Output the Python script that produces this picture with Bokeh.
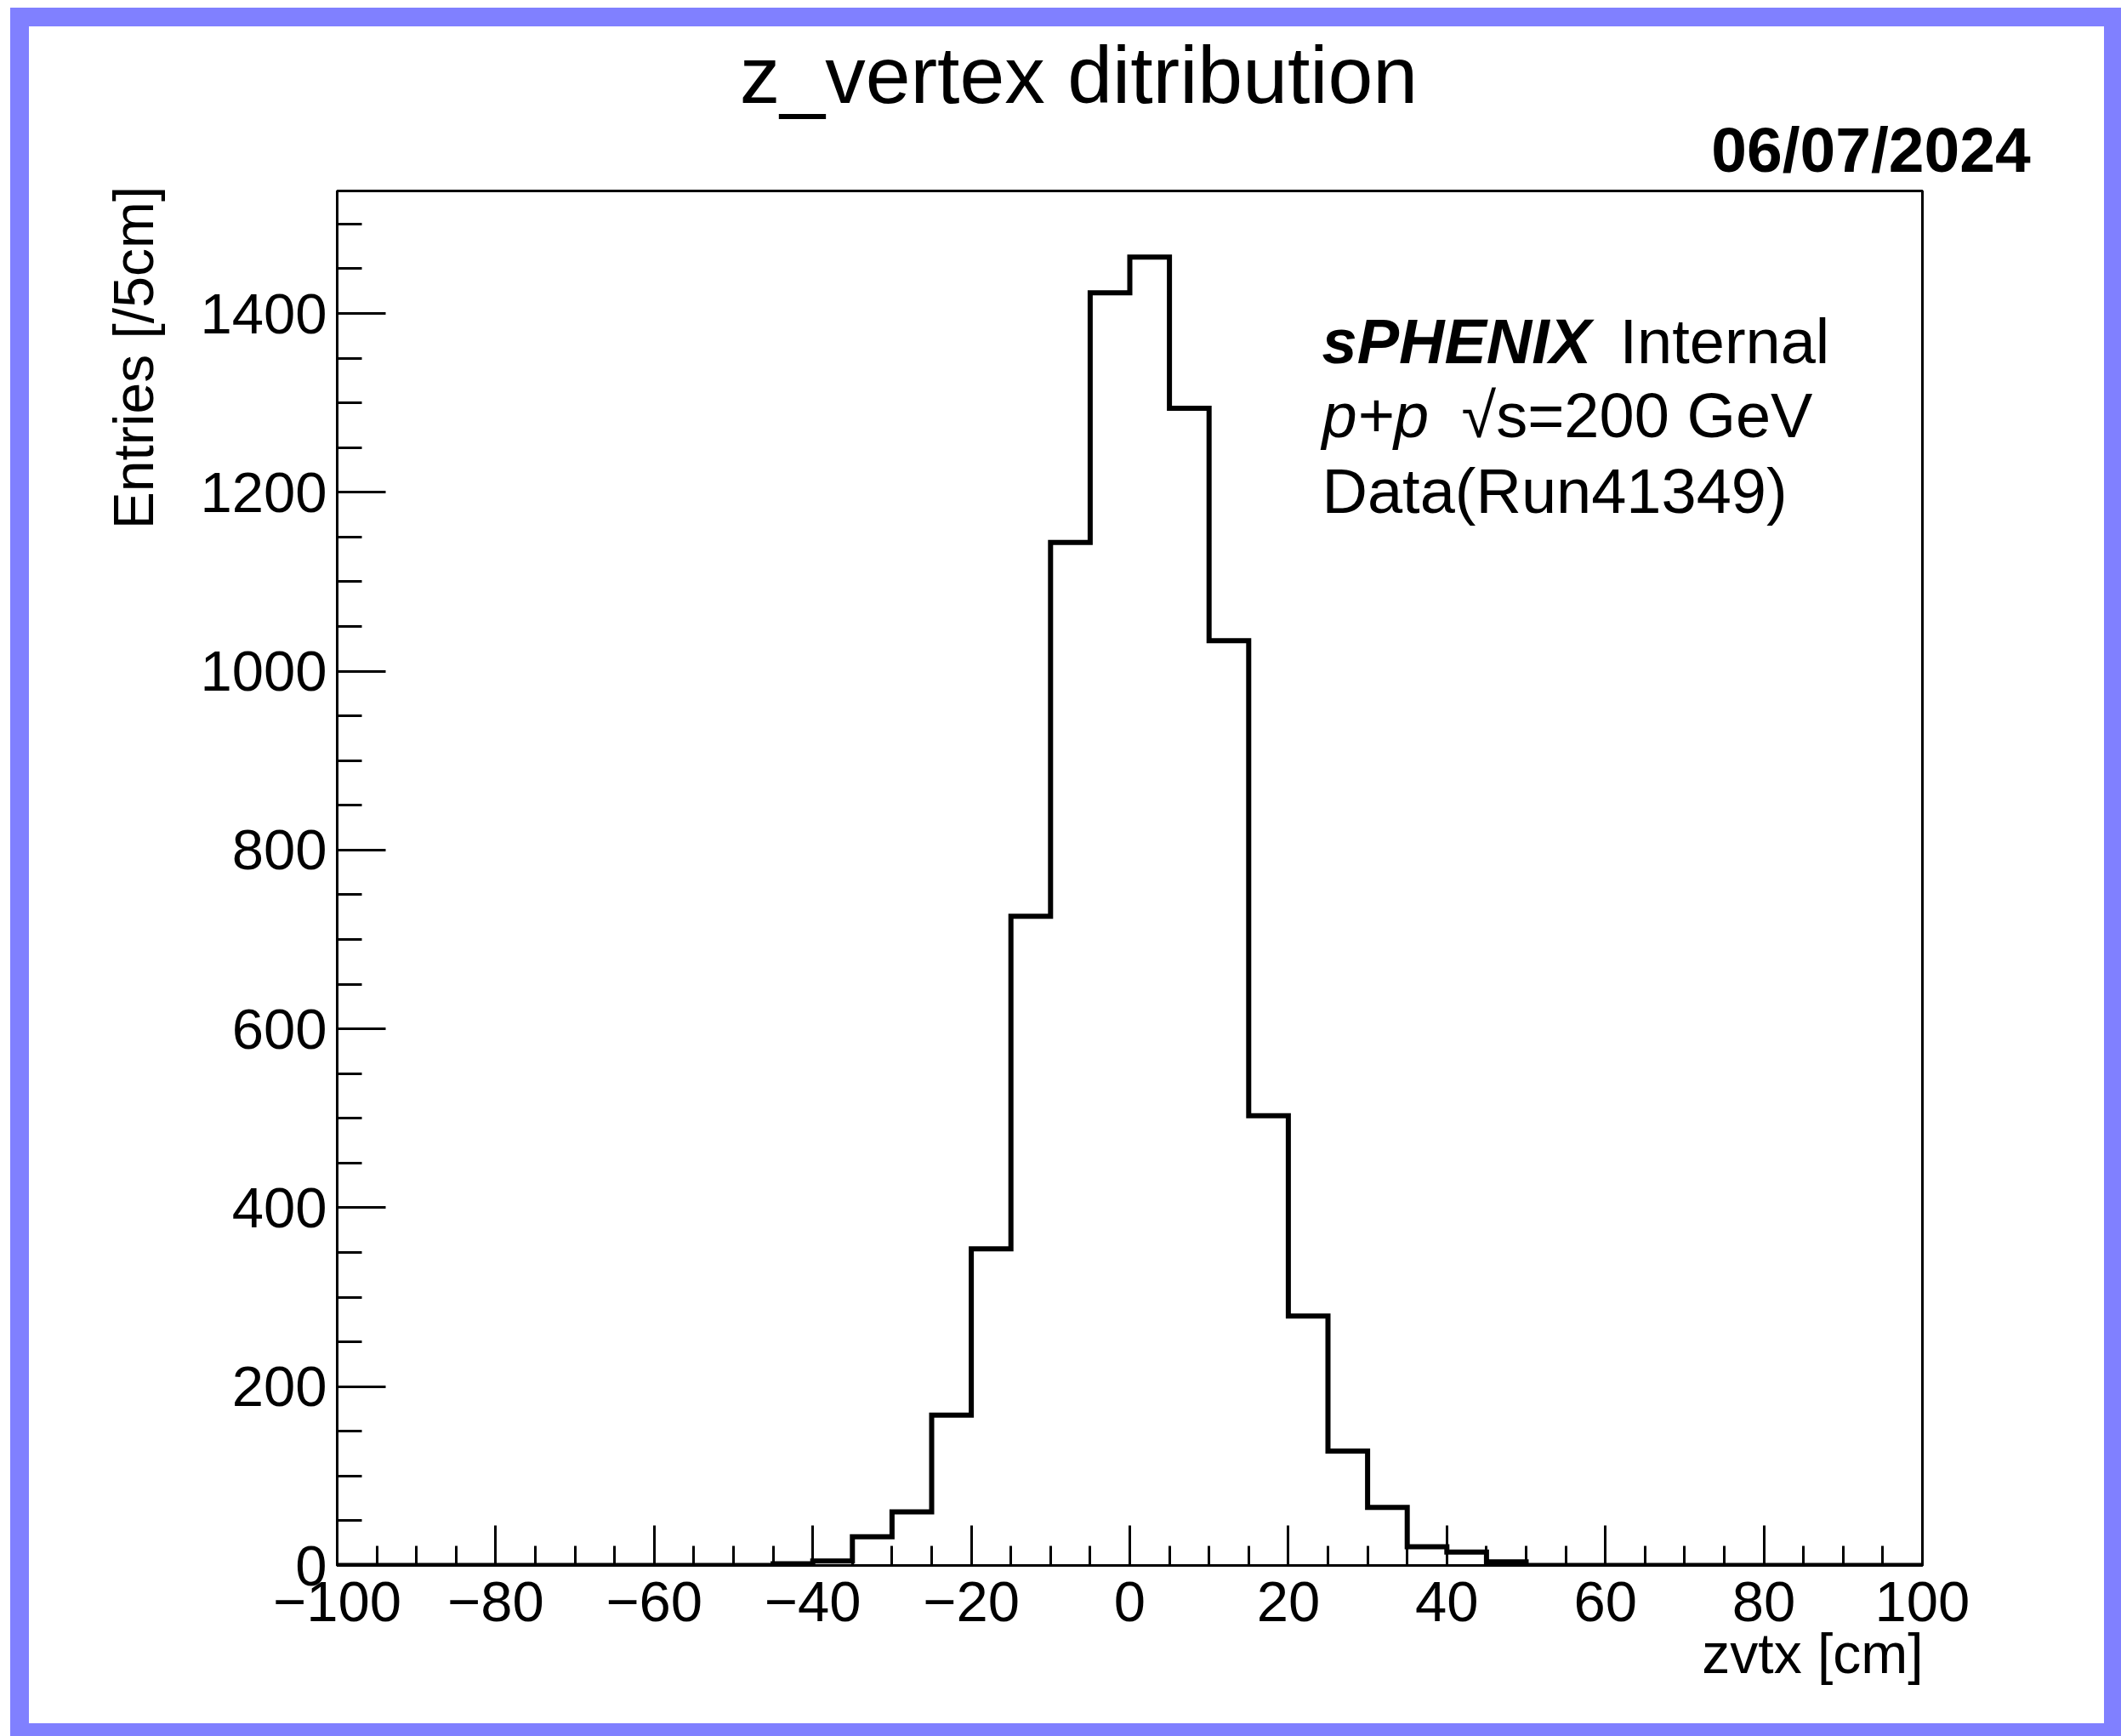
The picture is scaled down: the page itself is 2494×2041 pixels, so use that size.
from bokeh.plotting import figure
from bokeh.layouts import column
from bokeh.models import (Range1d, SingleIntervalTicker, FixedTicker, Label,
                          LinearAxis)
from bokeh.embed import file_html
from bokeh.resources import INLINE

# ---------------- data ----------------
bin_edges = list(range(-100, 105, 5))
counts = ([0] * 11 +
          [2, 5, 32, 60, 168, 354, 726, 1144, 1423, 1463,
           1294, 1034, 503, 279, 128, 65, 21, 15, 4] +
          [0] * 10)
x_ticks = [-100, -80, -60, -40, -20, 0, 20, 40, 60, 80, 100]
x_tick_labels = ["\u2212100", "\u221280", "\u221260", "\u221240", "\u221220",
                 "0", "20", "40", "60", "80", "100"]
y_ticks = [0, 200, 400, 600, 800, 1000, 1200, 1400]
y_tick_labels = ["0", "200", "400", "600", "800", "1000", "1200", "1400"]
title_text = "z_vertex ditribution"
date_text = "06/07/2024"
x_title = "zvtx [cm]"
y_title = "Entries [/5cm]"

# ---------------- layout (page pixels) ----------------
CX, CY = 34, 31                       # canvas origin inside the blue frame
W, H = 2440, 1995                     # canvas size
FL, FR, FT, FB = 396, 2260, 224, 1840  # plot frame in page pixels
X0, X1 = -100, 100
Y0, Y1 = 0, 1537
FONT = "Liberation Sans"
LABEL_SHIFT = 27                      # baseline correction for in-frame labels


def dx(px):
    return round(X0 + (px - FL) * (X1 - X0) / (FR - FL), 2)


def dy(py):
    return round(Y0 + (FB - py) * (Y1 - Y0) / (FB - FT), 2)


p = figure(width=W, height=H, output_backend="svg", toolbar_location=None,
           title_location=None,
           x_range=Range1d(X0, X1), y_range=Range1d(Y0, Y1),
           min_border_left=FL - CX, min_border_right=(CX + W) - FR,
           min_border_top=FT - CY, min_border_bottom=(CY + H) - FB)
p.background_fill_color = "white"
p.border_fill_color = "white"
p.outline_line_color = "black"
p.outline_line_width = 3
p.xgrid.visible = False
p.ygrid.visible = False

# histogram outline
p.step(x=bin_edges, y=counts + [counts[-1]], mode="after",
       line_width=6, line_color="black", line_join="miter")

# main axes
xa = p.xaxis[0]
xa.ticker = SingleIntervalTicker(interval=20, num_minor_ticks=4)
xa.major_label_overrides = {v: s for v, s in zip(x_ticks, x_tick_labels)}
ya = p.yaxis[0]
ya.ticker = SingleIntervalTicker(interval=200, num_minor_ticks=4)
ya.major_label_overrides = {v: s for v, s in zip(y_ticks, y_tick_labels)}

for ax, maj, mnr in ((xa, 47, 23), (ya, 57, 29)):
    ax.axis_line_color = "black"
    ax.axis_line_width = 3
    ax.major_tick_line_width = 3
    ax.minor_tick_line_width = 3
    ax.major_tick_in = maj
    ax.major_tick_out = 0
    ax.minor_tick_in = mnr
    ax.minor_tick_out = 0
    ax.major_label_text_font = FONT
    ax.major_label_text_font_size = "67px"
    ax.major_label_text_color = "black"
xa.major_label_standoff = 19
ya.major_label_standoff = 12


# texts outside the frame: carried by label-only axes
def text_axis(side, pos, text, size, standoff, style="normal",
              orientation="horizontal"):
    ax = LinearAxis(ticker=FixedTicker(ticks=[pos], minor_ticks=[]),
                    major_label_overrides={pos: text},
                    axis_line_color=None, major_tick_line_color=None,
                    minor_tick_line_color=None,
                    major_tick_in=0, major_tick_out=0,
                    minor_tick_in=0, minor_tick_out=0,
                    major_label_standoff=standoff,
                    major_label_orientation=orientation,
                    major_label_text_font=FONT,
                    major_label_text_font_size=f"{size}px",
                    major_label_text_font_style=style,
                    major_label_text_color="black")
    p.add_layout(ax, side)


text_axis("above", dx(2199.5), date_text, 75, 7, style="bold")
text_axis("above", dx(1268), title_text, 95, -10)
text_axis("below", dx(2131), x_title, 66, -2)
text_axis("left", dy(420), y_title, 66, 38, orientation="vertical")

# texts inside the frame


def add_label(px, py, text, size, style="normal"):
    p.add_layout(Label(x=dx(px), y=dy(py - LABEL_SHIFT), text=text,
                       text_font=FONT, text_font_size=f"{size}px",
                       text_font_style=style, text_align="left",
                       text_baseline="alphabetic", text_color="black"))


add_label(1554, 428, "sPHENIX", 74, style="bold italic")
add_label(1904, 428, "Internal", 74)
add_label(1554, 515, "p+p", 74, style="italic")
add_label(1718, 515, "\u221as=200 GeV", 74)
add_label(1554, 604, "Data(Run41349)", 74)

root = column(p, styles={"margin-left": "12px", "margin-top": "9px",
                         "border-style": "solid",
                         "border-color": "#8080ff",
                         "border-width": "22px 20px 15px 22px"})

open("out.html", "w").write(file_html(root, INLINE))
